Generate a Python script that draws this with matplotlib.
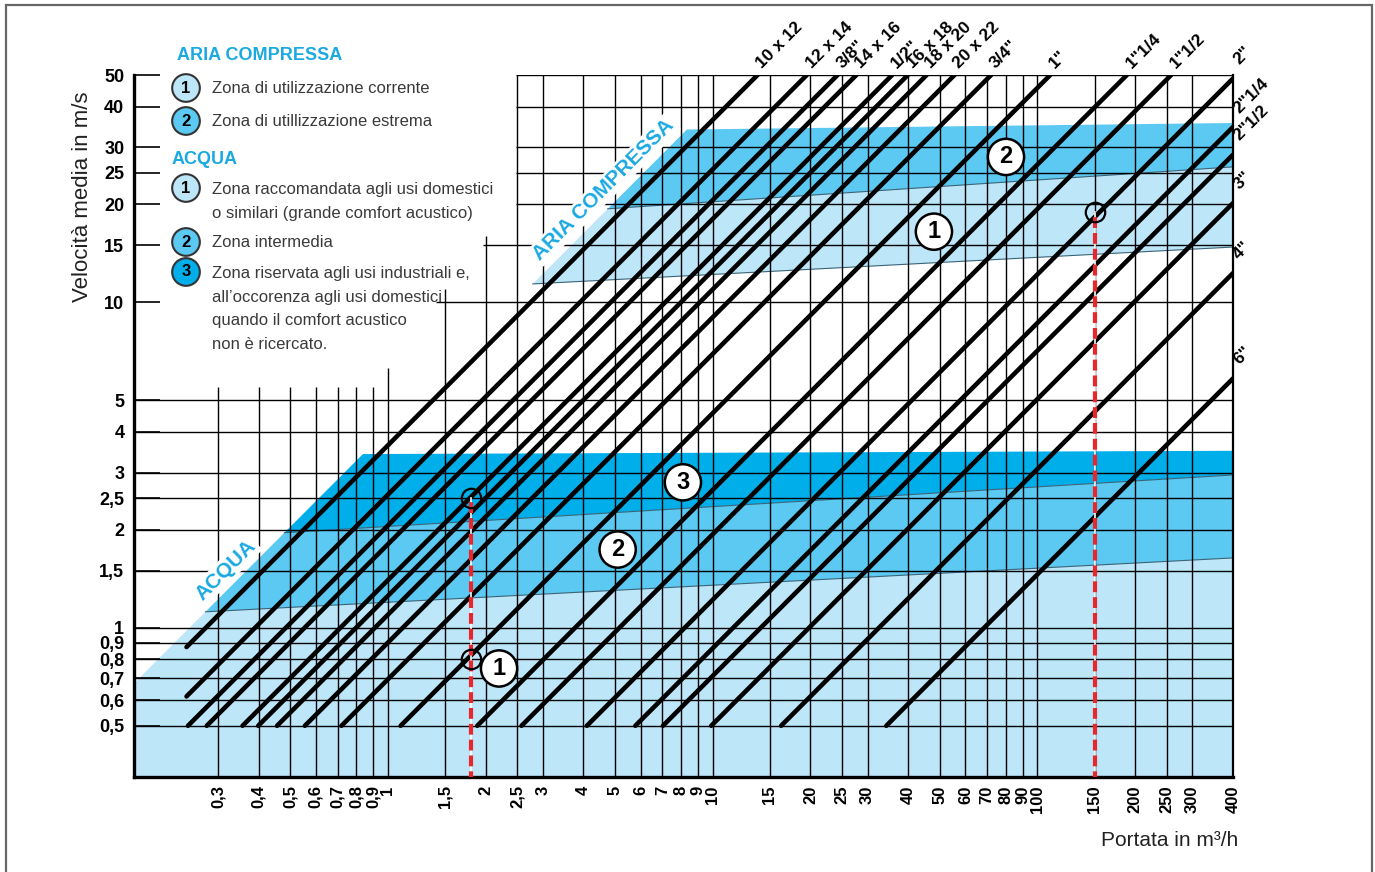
import numpy as np
import matplotlib.pyplot as plt
from matplotlib.patches import Rectangle

plt.rcParams['font.family'] = ['Liberation Sans', 'DejaVu Sans']

q_ticks = [0.3, 0.4, 0.5, 0.6, 0.7, 0.8, 0.9, 1, 1.5, 2, 2.5, 3, 4, 5, 6, 7, 8, 9, 10,
           15, 20, 25, 30, 40, 50, 60, 70, 80, 90, 100, 150, 200, 250, 300, 400]
q_labels = ['0,3', '0,4', '0,5', '0,6', '0,7', '0,8', '0,9', '1', '1,5', '2', '2,5', '3', '4', '5',
            '6', '7', '8', '9', '10', '15', '20', '25', '30', '40', '50', '60', '70', '80', '90',
            '100', '150', '200', '250', '300', '400']
# altezza a cui arriva ogni linea verticale della griglia (m/s)
q_grid_top = [5.5, 5.5, 5.5, 5.5, 5.5, 5.5, 5.5, 6.3, 11, 16] + [50] * 25

v_ticks = [0.5, 0.6, 0.7, 0.8, 0.9, 1, 1.5, 2, 2.5, 3, 4, 5, 10, 15, 20, 25, 30, 40, 50]
v_labels = ['0,5', '0,6', '0,7', '0,8', '0,9', '1', '1,5', '2', '2,5', '3', '4', '5',
            '10', '15', '20', '25', '30', '40', '50']
# portata da cui parte ogni linea orizzontale della griglia (m3/h)
v_grid_left = [0.1] * 12 + [1.41, 1.96, 2.48, 2.48, 2.48, 2.48, 2.48]

# tubi: rapporto portata / velocita (m3/h per m/s)
pipe_labels = ['10 x 12', '12 x 14', '3/8"', '14 x 16', '1/2"', '16 x 18', '18 x 20', '20 x 22',
               '3/4"', '1"', '1"1/4', '1"1/2', '2"', '2"1/4', '2"1/2', '3"', '4"', '6"']
pipe_k = [0.275, 0.39, 0.485, 0.554, 0.714, 0.798, 0.912, 1.111, 1.44, 2.19, 3.77, 5.16,
          8.2, 11.56, 14.06, 19.8, 32.5, 68.5]
q_min, q_max = 0.24, 400
v_min, v_max = 0.5, 50

# zone (bordo diagonale v = diag * Q)
diag = 4.08
water_left_v = [1.12, 1.96, 3.42]
water_right_v = [1.64, 2.95, 3.50]
air_left_v = [11.4, 19.4, 34.0]
air_right_v = [14.8, 26.1, 35.6]

ex_q = [1.8, 1.8, 150]
ex_v = [2.5, 0.8, 19]

zone_num = ['2', '1', '3', '2', '1']
zone_q = [80, 48, 8.1, 5.1, 2.2]
zone_v = [28, 16.5, 2.8, 1.74, 0.75]

c1, c2, c3 = '#bde6f9', '#5bc9f1', '#00aeea'
blue_txt = '#1ba9e1'

fig = plt.figure(figsize=(13.75, 8.72), dpi=100)
ax = fig.add_axes([134 / 1375, 95 / 872, 1099 / 1375, 702 / 872])
ax.set_xscale('log')
ax.set_yscale('log')
ax.set_xlim(0.1654, 400)
ax.set_ylim(0.348, 50)

# zone acqua
q0 = 0.1
ax.fill([q0, q0, water_left_v[0] / diag, 400, 400], [0.2, q0 * diag, water_left_v[0], water_right_v[0], 0.2],
        color=c1, lw=0, zorder=1)
ax.fill([water_left_v[0] / diag, water_left_v[1] / diag, 400, 400],
        [water_left_v[0], water_left_v[1], water_right_v[1], water_right_v[0]], color=c2, lw=0, zorder=1)
ax.fill([water_left_v[1] / diag, water_left_v[2] / diag, 400, 400],
        [water_left_v[1], water_left_v[2], water_right_v[2], water_right_v[1]], color=c3, lw=0, zorder=1)
# zone aria compressa
ax.fill([air_left_v[0] / diag, air_left_v[1] / diag, 400, 400],
        [air_left_v[0], air_left_v[1], air_right_v[1], air_right_v[0]], color=c1, lw=0, zorder=1)
ax.fill([air_left_v[1] / diag, air_left_v[2] / diag, 400, 400],
        [air_left_v[1], air_left_v[2], air_right_v[2], air_right_v[1]], color=c2, lw=0, zorder=1)
for lv, rv in [(water_left_v[0], water_right_v[0]), (water_left_v[1], water_right_v[1]),
               (air_left_v[0], air_right_v[0]), (air_left_v[1], air_right_v[1])]:
    ax.plot([lv / diag, 400], [lv, rv], color='#3b6478', lw=0.8, zorder=1.5)

# griglia
ax.vlines(q_ticks, 0.2, q_grid_top, color='black', lw=1.0, zorder=2)
ax.hlines(v_ticks, v_grid_left, 400, color='black', lw=1.0, zorder=2)

# linee dei tubi
for lab, k in zip(pipe_labels, pipe_k):
    va = max(v_min, q_min / k)
    vb = min(v_max, q_max / k)
    ax.plot([va * k, vb * k], [va, vb], color='black', lw=3.3, solid_capstyle='round', zorder=3)
    off = (5, 3) if vb >= v_max else (6, 8)
    ax.annotate(lab, xy=(vb * k, vb), xytext=off, textcoords='offset points', rotation=45,
                rotation_mode='anchor', ha='left', va='bottom', fontsize=12.5, fontweight='bold',
                annotation_clip=False)

# esempi
ax.plot([ex_q[0], ex_q[0]], [0.3, ex_v[0]], color='white', lw=1.2, zorder=5)
ax.plot([ex_q[0], ex_q[0]], [0.3, ex_v[0]], color='#e8262b', lw=3, ls=(0, (2.6, 1.2)), zorder=5)
ax.plot([ex_q[2], ex_q[2]], [0.3, ex_v[2]], color='white', lw=1.2, zorder=5)
ax.plot([ex_q[2], ex_q[2]], [0.3, ex_v[2]], color='#e8262b', lw=3, ls=(0, (2.6, 1.2)), zorder=5)
ax.plot(ex_q, ex_v, 'o', ms=14, mfc='none', mec='black', mew=1.6, zorder=6)

for n, q, v in zip(zone_num, zone_q, zone_v):
    ax.text(q, v, n, ha='center', va='center', fontsize=17, fontweight='bold', zorder=7,
            bbox=dict(boxstyle='circle,pad=0.28', fc='white', ec='black', lw=1.8))

ax.text(0.3175, 1.507, 'ACQUA', rotation=45, ha='center', va='center', fontsize=15,
        fontweight='bold', color=blue_txt, zorder=2.5,
        bbox=dict(boxstyle='square,pad=0.1', fc='white', ec='none'))
ax.text(4.62, 22.2, 'ARIA COMPRESSA', rotation=45, ha='center', va='center', fontsize=15,
        fontweight='bold', color=blue_txt, zorder=2.5,
        bbox=dict(boxstyle='square,pad=0.1', fc='white', ec='none'))

# assi
ax.set_xticks(q_ticks)
ax.set_xticklabels(q_labels, rotation=90, fontsize=12, fontweight='bold')
ax.set_yticks(v_ticks)
ax.set_yticklabels(v_labels, fontsize=13, fontweight='bold')
ax.minorticks_off()
ax.tick_params(axis='x', length=0, pad=6)
ax.tick_params(axis='y', direction='in', length=19, width=1.2, pad=7)
ax.spines['top'].set_visible(False)
ax.spines['left'].set_linewidth(2.4)
ax.spines['bottom'].set_linewidth(2.4)
ax.spines['right'].set_linewidth(1.6)
ax.patch.set_alpha(0)

fig.text(83 / 1375, 1 - 197 / 872, 'Velocità media in m/s', rotation=90, ha='center', va='center',
         fontsize=16, color='#222')
fig.text(1238 / 1375, 1 - 840 / 872, 'Portata in m³/h', ha='right', va='center', fontsize=15,
         color='#222')

# legenda
fig.text(177 / 1375, 1 - 55 / 872, 'ARIA COMPRESSA', fontsize=13, fontweight='bold', color=blue_txt,
         va='center')
fig.text(172 / 1375, 1 - 160 / 872, 'ACQUA', fontsize=13, fontweight='bold', color=blue_txt,
         va='center')
leg = [(88, '1', c1, 'Zona di utilizzazione corrente'),
       (121, '2', c2, 'Zona di utillizzazione estrema'),
       (188, '1', c1, 'Zona raccomandata agli usi domestici\no similari (grande comfort acustico)'),
       (242, '2', c2, 'Zona intermedia'),
       (272, '3', c3, 'Zona riservata agli usi industriali e,\nall\u2019occorenza agli usi domestici\n'
                      'quando il comfort acustico\nnon è ricercato.')]
for y, n, col, txt in leg:
    fig.text(186 / 1375, 1 - y / 872, n, ha='center', va='center', fontsize=12, fontweight='bold',
             bbox=dict(boxstyle='circle,pad=0.38', fc=col, ec='#333', lw=1.5))
    multi = '\n' in txt
    fig.text(212 / 1375, 1 - ((y - 6) if multi else y) / 872, txt, ha='left',
             va='top' if multi else 'center', fontsize=12, color='#3a3a3a', linespacing=1.72)

fig.add_artist(Rectangle((6 / 1375, -0.01), 1366 / 1375, 1 - 5 / 872 + 0.01, transform=fig.transFigure,
                         fill=False, ec='#666', lw=1.6))

fig.savefig('out.png', dpi=100)
